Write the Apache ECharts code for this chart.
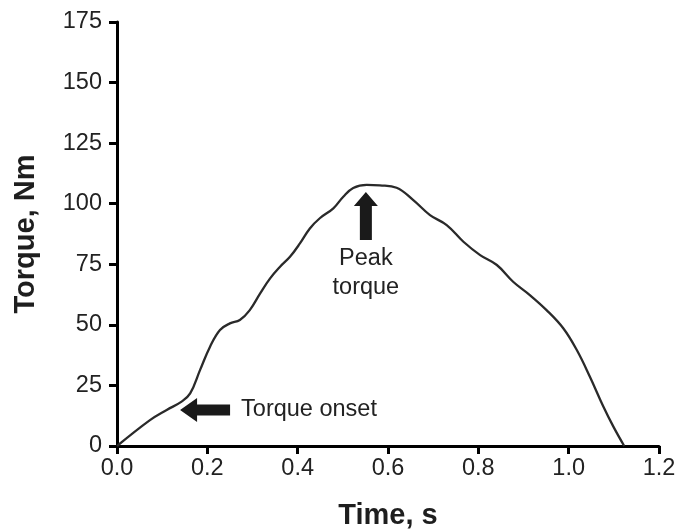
<!DOCTYPE html>
<html>
<head>
<meta charset="utf-8">
<script src="https://cdn.jsdelivr.net/npm/echarts@6/dist/echarts.min.js"></script>
<style>html,body{margin:0;padding:0;background:#fff}#c{width:695px;height:530px}</style>
</head>
<body>
<div id="c"></div>
<script>
const timeS = [0, 0.073, 0.110, 0.143, 0.162, 0.184, 0.206, 0.228, 0.250, 0.272, 0.294, 0.317, 0.339, 0.361, 0.383, 0.405, 0.427, 0.449, 0.479, 0.501, 0.523, 0.553, 0.582, 0.619, 0.656, 0.693, 0.730, 0.767, 0.804, 0.841, 0.877, 0.914, 0.951, 0.988, 1.018, 1.047, 1.077, 1.099, 1.123];
const torqueNm = [0, 10.7, 14.9, 18.3, 21.7, 31.4, 41, 47.9, 50.6, 52, 56.1, 63, 69.2, 74, 78.1, 83.6, 89.8, 94, 98.1, 102.9, 106.5, 107.8, 107.6, 106.6, 101.5, 95.3, 91.2, 84.3, 78.8, 74.7, 67.8, 62.3, 56.1, 48.6, 39.6, 28.6, 16.2, 8, 0];
const onsetAnnot = { t: 0.195, T: 14.9, text: 'Torque onset' };
const peakAnnot = { t: 0.551, T: 94.9, text: 'Peak\ntorque' };

const FONT = '"Liberation Sans", Arial, Helvetica, sans-serif';
const chart = echarts.init(document.getElementById('c'), null, { renderer: 'canvas' });
chart.setOption({
  backgroundColor: '#fff',
  animation: false,
  grid: { left: 117, right: 36, top: 22, bottom: 84, containLabel: false, outerBoundsMode: 'none' },
  xAxis: {
    type: 'value', min: 0, max: 1.2, interval: 0.2,
    name: 'Time, s', nameLocation: 'middle', nameGap: 55,
    nameTextStyle: { fontFamily: FONT, fontSize: 29, fontWeight: 'bold', color: '#1e1e1e' },
    axisLine: { show: true, lineStyle: { color: '#000', width: 3 } },
    axisTick: { show: true, length: 8, lineStyle: { color: '#000', width: 3 } },
    axisLabel: { margin: 11, fontFamily: FONT, fontSize: 23.5, color: '#222', formatter: v => v.toFixed(1) },
    splitLine: { show: false }
  },
  yAxis: {
    type: 'value', min: 0, max: 175, interval: 25,
    name: 'Torque, Nm', nameLocation: 'middle', nameGap: 77,
    nameTextStyle: { fontFamily: FONT, fontSize: 29, fontWeight: 'bold', color: '#1e1e1e' },
    axisLine: { show: true, lineStyle: { color: '#000', width: 3 } },
    axisTick: { show: true, length: 8, lineStyle: { color: '#000', width: 3 } },
    axisLabel: { margin: 15, fontFamily: FONT, fontSize: 23.5, color: '#222' },
    splitLine: { show: false }
  },
  series: [{
    type: 'line',
    data: timeS.map((t, i) => [t, torqueNm[i]]),
    smooth: 0.4,
    showSymbol: false,
    lineStyle: { color: '#2a2a2a', width: 2.3 },
    markPoint: {
      silent: true,
      data: [
        {
          coord: [onsetAnnot.t, onsetAnnot.T],
          symbol: 'path://M0,12 L17,0 L17,6.5 L50,6.5 L50,17.5 L17,17.5 L17,24 Z',
          symbolSize: [50, 24],
          itemStyle: { color: '#1a1a1a' },
          label: { show: true, position: 'right', distance: 11, formatter: onsetAnnot.text, fontFamily: FONT, fontSize: 23.5, color: '#222' }
        },
        {
          coord: [peakAnnot.t, peakAnnot.T],
          symbol: 'path://M12,0 L24,14 L18,14 L18,48 L6,48 L6,14 L0,14 Z',
          symbolSize: [24, 48],
          itemStyle: { color: '#1a1a1a' },
          label: { show: true, position: 'bottom', distance: 4, formatter: peakAnnot.text, fontFamily: FONT, fontSize: 23.5, lineHeight: 29, align: 'center', color: '#222' }
        }
      ]
    }
  }]
});
</script>
</body>
</html>
